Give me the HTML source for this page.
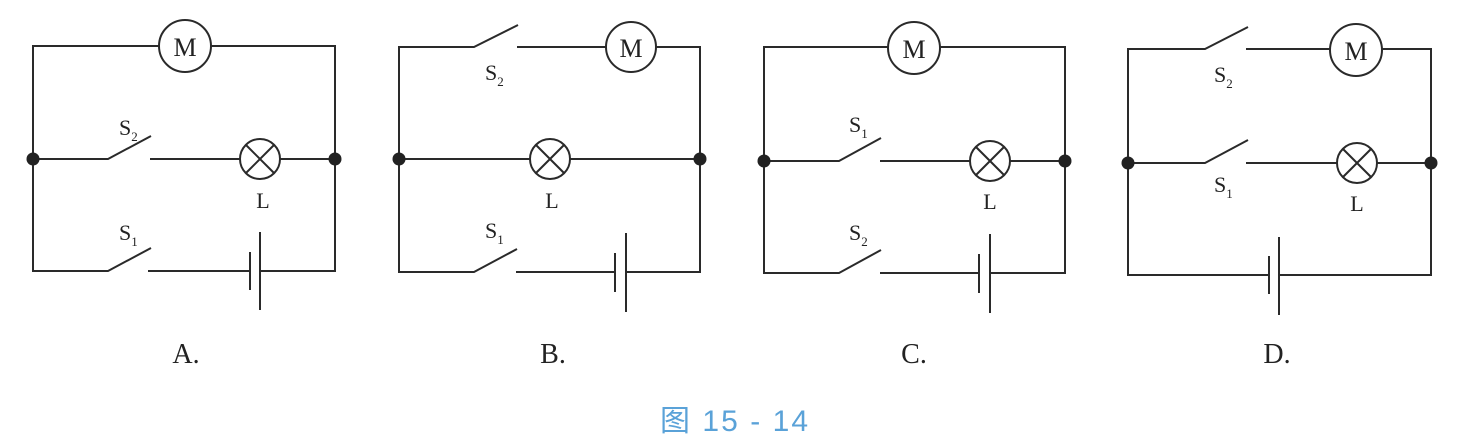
<!DOCTYPE html>
<html><head><meta charset="utf-8"><style>
html,body{margin:0;padding:0;background:#fff;}
svg{display:block;}
.w{stroke:#2a2a2a;stroke-width:2;fill:none;}
.t{font-family:"Liberation Serif",serif;fill:#222;}
</style></head><body>
<svg width="1478" height="447" viewBox="0 0 1478 447" xmlns="http://www.w3.org/2000/svg">
<!-- A -->
<g>
<polyline class="w" points="159,46 33,46 33,271 108,271 151,248"/>
<polyline class="w" points="211,46 335,46 335,271 260,271"/>
<line class="w" x1="148" y1="271" x2="250" y2="271"/>
<line class="w" x1="250" y1="252" x2="250" y2="290"/>
<line class="w" x1="260" y1="232" x2="260" y2="310"/>
<circle class="w" cx="185" cy="46" r="26"/>
<text class="t" x="185" y="56" font-size="26" text-anchor="middle">M</text>
<polyline class="w" points="33,159 108,159 151,136"/>
<line class="w" x1="150" y1="159" x2="240" y2="159"/>
<line class="w" x1="280" y1="159" x2="335" y2="159"/>
<circle class="w" cx="260" cy="159" r="20"/>
<line class="w" x1="246" y1="145" x2="274" y2="173"/><line class="w" x1="274" y1="145" x2="246" y2="173"/>
<circle cx="33" cy="159" r="6.5" fill="#222"/><circle cx="335" cy="159" r="6.5" fill="#222"/>
<text class="t" x="119" y="135" font-size="22">S<tspan font-size="13" dy="6">2</tspan></text>
<text class="t" x="119" y="240" font-size="22">S<tspan font-size="13" dy="6">1</tspan></text>
<text class="t" x="263" y="208" font-size="22" text-anchor="middle">L</text>
<text class="t" x="186" y="363" font-size="28" text-anchor="middle">A.</text>
</g>
<!-- B -->
<g>
<polyline class="w" points="517,47 606,47"/>
<polyline class="w" points="518,25 474,47 399,47 399,272 474,272 517,249"/>
<polyline class="w" points="656,47 700,47 700,272 626,272"/>
<line class="w" x1="516" y1="272" x2="615" y2="272"/>
<line class="w" x1="615" y1="253" x2="615" y2="292"/>
<line class="w" x1="626" y1="233" x2="626" y2="312"/>
<circle class="w" cx="631" cy="47" r="25"/>
<text class="t" x="631" y="57" font-size="26" text-anchor="middle">M</text>
<line class="w" x1="399" y1="159" x2="530" y2="159"/>
<line class="w" x1="570" y1="159" x2="700" y2="159"/>
<circle class="w" cx="550" cy="159" r="20"/>
<line class="w" x1="536" y1="145" x2="564" y2="173"/><line class="w" x1="564" y1="145" x2="536" y2="173"/>
<circle cx="399" cy="159" r="6.5" fill="#222"/><circle cx="700" cy="159" r="6.5" fill="#222"/>
<text class="t" x="485" y="80" font-size="22">S<tspan font-size="13" dy="6">2</tspan></text>
<text class="t" x="485" y="238" font-size="22">S<tspan font-size="13" dy="6">1</tspan></text>
<text class="t" x="552" y="208" font-size="22" text-anchor="middle">L</text>
<text class="t" x="553" y="363" font-size="28" text-anchor="middle">B.</text>
</g>
<!-- C -->
<g>
<polyline class="w" points="888,47 764,47 764,273 839,273 881,250"/>
<polyline class="w" points="940,47 1065,47 1065,273 990,273"/>
<line class="w" x1="880" y1="273" x2="979" y2="273"/>
<line class="w" x1="979" y1="254" x2="979" y2="293"/>
<line class="w" x1="990" y1="234" x2="990" y2="313"/>
<circle class="w" cx="914" cy="48" r="26"/>
<text class="t" x="914" y="58" font-size="26" text-anchor="middle">M</text>
<polyline class="w" points="764,161 839,161 881,138"/>
<line class="w" x1="880" y1="161" x2="970" y2="161"/>
<line class="w" x1="1010" y1="161" x2="1065" y2="161"/>
<circle class="w" cx="990" cy="161" r="20"/>
<line class="w" x1="976" y1="147" x2="1004" y2="175"/><line class="w" x1="1004" y1="147" x2="976" y2="175"/>
<circle cx="764" cy="161" r="6.5" fill="#222"/><circle cx="1065" cy="161" r="6.5" fill="#222"/>
<text class="t" x="849" y="132" font-size="22">S<tspan font-size="13" dy="6">1</tspan></text>
<text class="t" x="849" y="240" font-size="22">S<tspan font-size="13" dy="6">2</tspan></text>
<text class="t" x="990" y="209" font-size="22" text-anchor="middle">L</text>
<text class="t" x="914" y="363" font-size="28" text-anchor="middle">C.</text>
</g>
<!-- D -->
<g>
<polyline class="w" points="1248,27 1205,49 1128,49 1128,275 1269,275"/>
<line class="w" x1="1246" y1="49" x2="1330" y2="49"/>
<polyline class="w" points="1382,49 1431,49 1431,275 1279,275"/>
<line class="w" x1="1269" y1="256" x2="1269" y2="294"/>
<line class="w" x1="1279" y1="237" x2="1279" y2="315"/>
<circle class="w" cx="1356" cy="50" r="26"/>
<text class="t" x="1356" y="60" font-size="26" text-anchor="middle">M</text>
<polyline class="w" points="1128,163 1205,163 1248,140"/>
<line class="w" x1="1246" y1="163" x2="1337" y2="163"/>
<line class="w" x1="1377" y1="163" x2="1431" y2="163"/>
<circle class="w" cx="1357" cy="163" r="20"/>
<line class="w" x1="1343" y1="149" x2="1371" y2="177"/><line class="w" x1="1371" y1="149" x2="1343" y2="177"/>
<circle cx="1128" cy="163" r="6.5" fill="#222"/><circle cx="1431" cy="163" r="6.5" fill="#222"/>
<text class="t" x="1214" y="82" font-size="22">S<tspan font-size="13" dy="6">2</tspan></text>
<text class="t" x="1214" y="192" font-size="22">S<tspan font-size="13" dy="6">1</tspan></text>
<text class="t" x="1357" y="211" font-size="22" text-anchor="middle">L</text>
<text class="t" x="1277" y="363" font-size="28" text-anchor="middle">D.</text>
</g>
<text x="660" y="431" font-size="30" fill="#5aa2d8" textLength="148" lengthAdjust="spacing" font-family="Liberation Sans, Noto Sans CJK SC, sans-serif">图 15 - 14</text>
</svg>
</body></html>
